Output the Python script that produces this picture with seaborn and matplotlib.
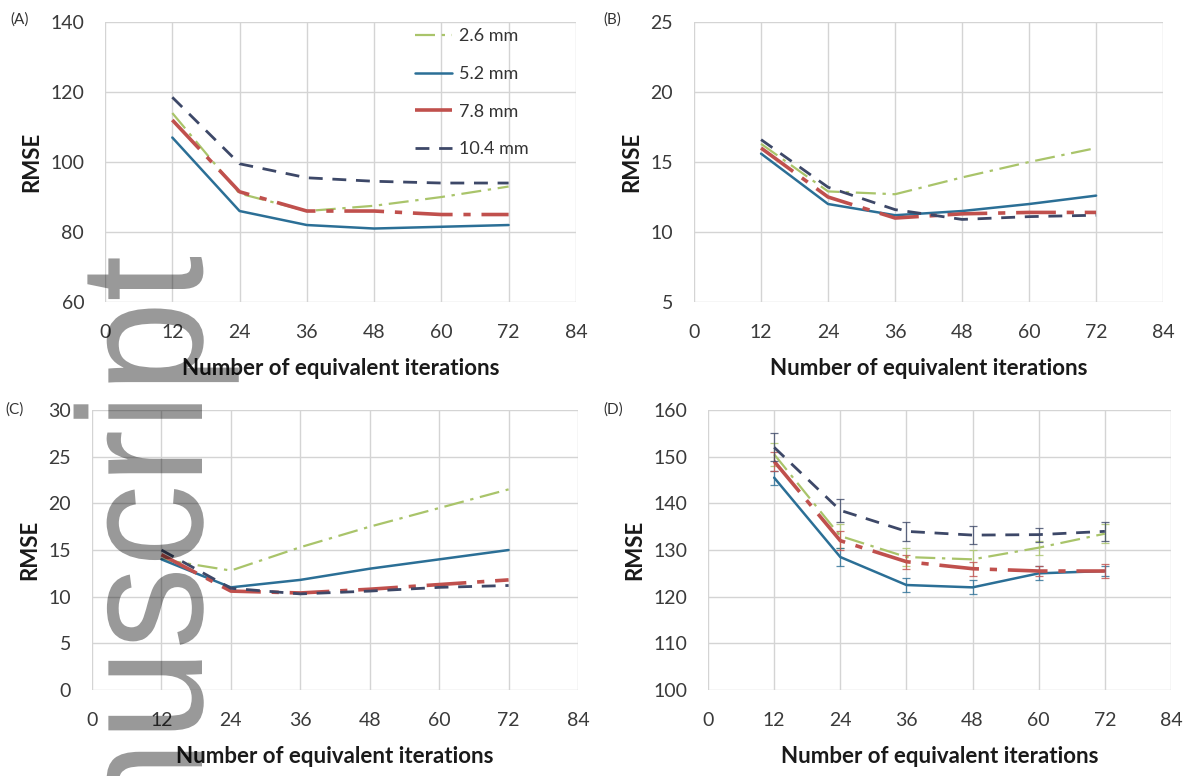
import matplotlib
matplotlib.use("Agg")
import matplotlib.pyplot as plt
import matplotlib.transforms as mtransforms
from matplotlib.font_manager import FontProperties
from matplotlib.patches import PathPatch
from matplotlib.textpath import TextPath
import seaborn as sns

# iterations on the x axis
iters = [12, 24, 36, 48, 60, 72]
labels = ["2.6 mm", "5.2 mm", "7.8 mm", "10.4 mm"]

# (A)
a_26 = [114, 91, 86, 87.5, 90, 93]
a_52 = [107, 86, 82, 81, 81.5, 82]
a_78 = [112, 91.5, 86, 86, 85, 85]
a_104 = [118.5, 99.5, 95.5, 94.5, 94, 94]

# (B)
b_26 = [16.3, 12.9, 12.7, 13.9, 15.0, 16.0]
b_52 = [15.6, 12.0, 11.2, 11.5, 12.0, 12.6]
b_78 = [16.0, 12.5, 11.0, 11.3, 11.4, 11.4]
b_104 = [16.6, 13.2, 11.6, 10.9, 11.1, 11.2]

# (C)
c_26 = [14.0, 12.8, 15.3, 17.5, 19.5, 21.5]
c_52 = [14.0, 11.0, 11.8, 13.0, 14.0, 15.0]
c_78 = [14.5, 10.6, 10.4, 10.8, 11.3, 11.8]
c_104 = [15.0, 10.9, 10.3, 10.6, 11.0, 11.2]

# (D) with error bars
d_26 = [150.5, 133, 128.5, 128, 130.5, 133.5]
d_52 = [145.5, 128.5, 122.5, 122, 125, 125.5]
d_78 = [149, 132, 127.5, 126, 125.5, 125.5]
d_104 = [152, 138.5, 134, 133.2, 133.3, 134]
d_26_err = [2.5, 2.5, 2.0, 2.0, 1.5, 2.0]
d_52_err = [1.5, 2.0, 1.5, 1.5, 1.5, 1.0]
d_78_err = [2.0, 2.0, 1.5, 1.5, 1.0, 1.5]
d_104_err = [3.0, 2.5, 2.0, 2.0, 1.5, 2.0]

colors = ["#a9c46a", "#2b6f96", "#c0504d", "#3d4868"]
styles = [(0, (9, 3, 1.5, 3)), "-", (0, (11, 3, 2, 3)), (0, (5, 3.5))]
widths = [1.6, 1.8, 2.6, 2.0]

sns.set_theme(style="whitegrid")
plt.rcParams["font.family"] = ["Lato", "DejaVu Sans"]

fig = plt.figure(figsize=(11.95, 7.76), dpi=100)

panels = [
    ("(A)", [a_26, a_52, a_78, a_104], None, (60, 140, 20),
     [0.0879, 0.6108, 0.394, 0.3608], (10, 20)),
    ("(B)", [b_26, b_52, b_78, b_104], None, (5, 25, 5),
     [0.5808, 0.6108, 0.3925, 0.3608], (603, 20)),
    ("(C)", [c_26, c_52, c_78, c_104], None, (0, 30, 5),
     [0.077, 0.1108, 0.4067, 0.3608], (5, 410)),
    ("(D)", [d_26, d_52, d_78, d_104], [d_26_err, d_52_err, d_78_err, d_104_err],
     (100, 160, 10), [0.5925, 0.1108, 0.3874, 0.3608], (603, 410)),
]

for tag, series, errs, (lo, hi, step), rect, (tx, ty) in panels:
    ax = fig.add_axes(rect)
    for i, vals in enumerate(series):
        sns.lineplot(x=iters, y=vals, ax=ax, color=colors[i], linewidth=widths[i],
                     linestyle=styles[i], label=labels[i] if tag == "(A)" else None,
                     legend=False)
        if errs is not None:
            ax.errorbar(iters, vals, yerr=errs[i], fmt="none", ecolor=colors[i],
                        elinewidth=0.9, capsize=3, capthick=0.9, alpha=0.8)
    ax.set_xlim(0, 84)
    ax.set_ylim(lo, hi)
    ax.set_xticks(range(0, 85, 12))
    ax.set_yticks(range(lo, hi + 1, step))
    ax.grid(True, color="#d4d4d4", linewidth=1.0)
    for s in ax.spines.values():
        s.set_visible(False)
    ax.tick_params(axis="both", labelsize=14, colors="#3a3a3a", length=0)
    ax.tick_params(axis="x", pad=16)
    ax.tick_params(axis="y", pad=15)
    ax.set_xlabel("Number of equivalent iterations", fontsize=16, fontweight="bold",
                  color="#1a1a1a", labelpad=12)
    ax.set_ylabel("RMSE", fontsize=16, fontweight="bold", color="#1a1a1a", labelpad=6)
    fig.text(tx / 1195, 1 - ty / 776, tag, fontsize=11, color="#333333",
             ha="left", va="center")
    if tag == "(A)":
        ax.legend(loc="upper left", bbox_to_anchor=(0.64, 1.01), frameon=False,
                  fontsize=13, labelspacing=1.2, handlelength=2.0, handletextpad=0.4,
                  borderpad=0, labelcolor="#333333")

# watermark left over from the source page, drawn in pixel coordinates
wm_font = FontProperties(family="Liberation Sans")
wm_path = TextPath((0, 0), "Manuscript", size=1, prop=wm_font)
end_u = wm_path.get_extents().x1
start_u = TextPath((0, 0), "Man", size=1, prop=wm_font).get_extents().x1 + 0.12
along = 475 / (end_u - start_u)
across = 92 / 0.519
wm_tr = (mtransforms.Affine2D().scale(along, across).rotate_deg(90)
         .translate(202, (776 - 257) - end_u * along))
fig.add_artist(PathPatch(wm_path, transform=wm_tr, facecolor="black",
                         edgecolor="none", alpha=0.4, zorder=10))

fig.savefig("out.png", dpi=100)
